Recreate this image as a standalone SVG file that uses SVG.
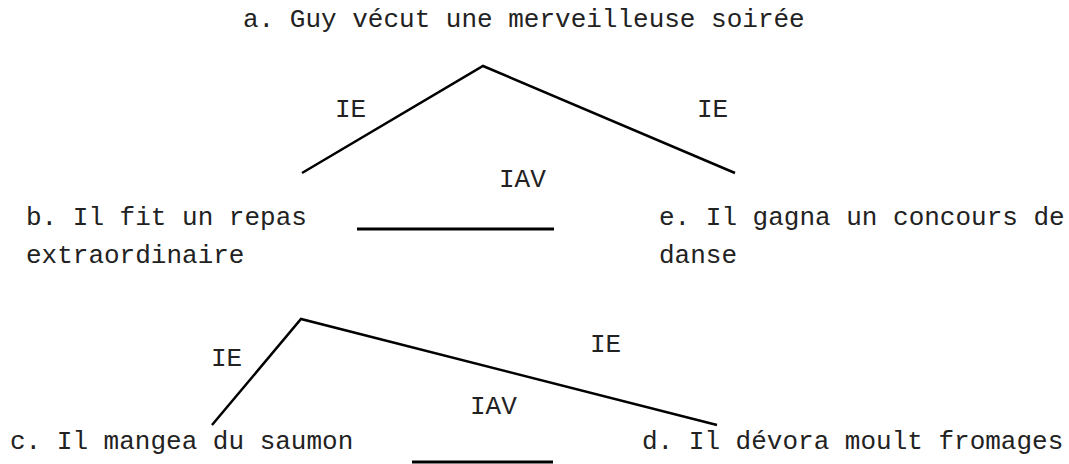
<svg xmlns="http://www.w3.org/2000/svg" width="1069" height="464" viewBox="0 0 1069 464">
<style>
text { font-family: "Liberation Mono", "Courier New", monospace; font-size: 26px; fill: #222; }
.edge { fill: none; stroke: #000; stroke-width: 2.5; stroke-linejoin: miter; }
.bar { stroke: #000; stroke-width: 3; }
</style>
<rect width="1069" height="464" fill="#fff"/>
<g id="node-a"><text x="243" y="27">a. Guy vécut une merveilleuse soirée</text></g>
<g id="node-b"><text x="26" y="225">b. Il fit un repas</text><text x="26" y="263">extraordinaire</text></g>
<g id="node-e"><text x="659" y="225">e. Il gagna un concours de</text><text x="659" y="263">danse</text></g>
<g id="node-c"><text x="10" y="449">c. Il mangea du saumon</text></g>
<g id="node-d"><text x="642" y="449">d. Il dévora moult fromages</text></g>
<g id="connectors">
<polyline class="edge" points="302,173 483,66 735,173"/>
<text x="335" y="117">IE</text>
<text x="697" y="117">IE</text>
<text x="499" y="187">IAV</text>
<line class="bar" x1="357" y1="229" x2="554" y2="229"/>
<polyline class="edge" points="212,425 301,319 717,425"/>
<text x="211" y="366">IE</text>
<text x="590" y="352">IE</text>
<text x="470" y="414">IAV</text>
<line class="bar" x1="412" y1="462" x2="553" y2="462"/>
</g>
</svg>
